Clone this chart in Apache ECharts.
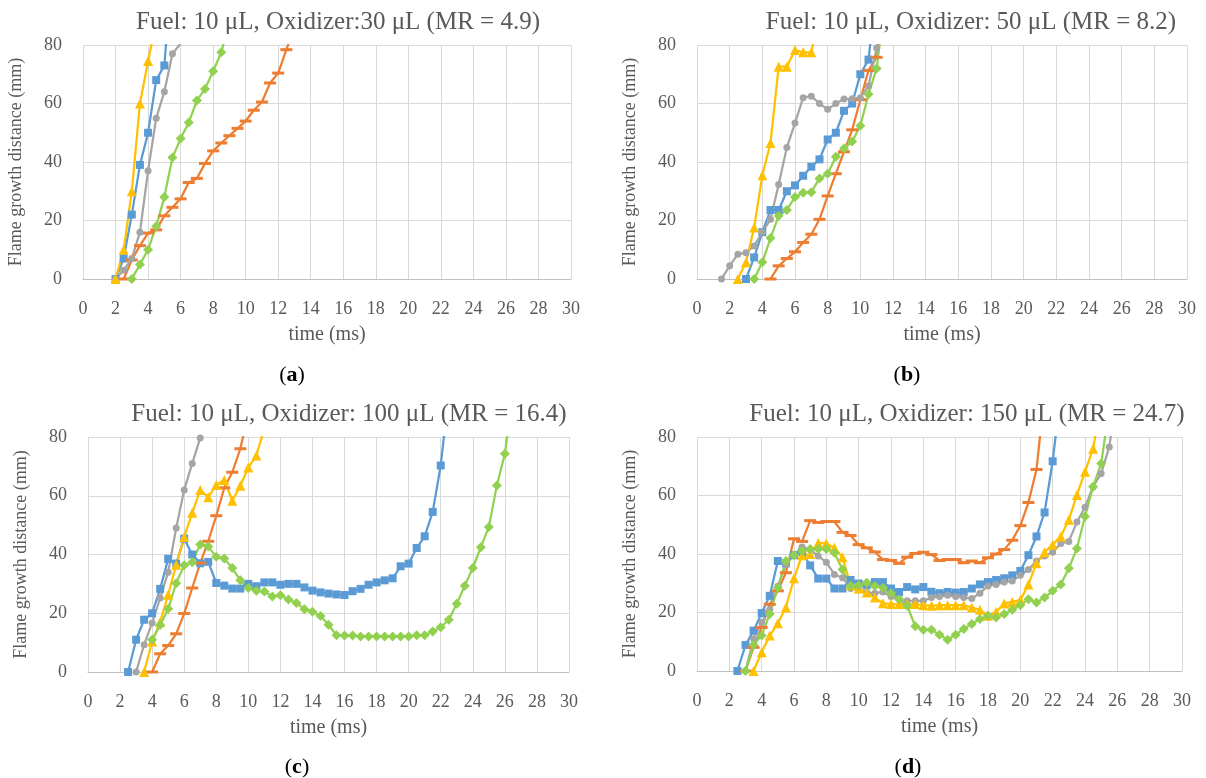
<!DOCTYPE html>
<html>
<head>
<meta charset="utf-8">
<script src="https://cdn.jsdelivr.net/npm/echarts@6/dist/echarts.min.js"></script>
<style>
  html, body { margin: 0; padding: 0; background: #fff; }
  #chart { width: 1206px; height: 778px; }
</style>
</head>
<body>
<div id="chart"></div>
<script>
// Flame growth distance (mm) vs. time (ms), sampled every 0.5 ms.
// Each run is stored as its first sample time and the successive distances.
const STEP = 0.5;
const X_TICKS = [0, 2, 4, 6, 8, 10, 12, 14, 16, 18, 20, 22, 24, 26, 28, 30];
const Y_TICKS = [0, 20, 40, 60, 80];

const PANEL_TITLES = [
  'Fuel: 10 μL, Oxidizer:30 μL (MR = 4.9)',
  'Fuel: 10 μL, Oxidizer: 50 μL (MR = 8.2)',
  'Fuel: 10 μL, Oxidizer: 100 μL (MR = 16.4)',
  'Fuel: 10 μL, Oxidizer: 150 μL (MR = 24.7)'
];
const PANEL_TAGS = ['a', 'b', 'c', 'd'];

// (a) MR = 4.9
const blueA_start = 2;    const blueA   = [0, 7, 22, 39, 50, 68, 73, 108];
const orangeA_start = 2.5; const orangeA = [0, 6.5, 11.4, 15.7, 16.8, 21.6, 24.5, 27.4, 33, 34.4, 39.5, 43.8, 46.5, 49, 51.5, 54, 57.7, 60.5, 67, 70.4, 78.4, 86];
const grayA_start = 2;    const grayA   = [0, 3, 7, 16, 37, 55, 64, 77, 80.5, 90];
const yellowA_start = 2;  const yellowA = [0, 10, 30, 60, 74.5, 88];
const greenA_start = 3;   const greenA  = [0, 5, 10, 18, 28, 41.5, 48, 53.5, 61, 65, 71, 77.5, 88];

// (b) MR = 8.2
const blueB_start = 3;    const blueB   = [0, 7.4, 16, 23.6, 23.6, 30, 32, 35.3, 38.4, 40.9, 47.7, 50, 57.5, 60, 70, 75, 100];
const orangeB_start = 4.5; const orangeB = [0, 4.5, 7, 9.3, 12.5, 15.3, 20.4, 28.4, 36, 43.5, 51, 61.3, 71.3, 75.8, 95];
const grayB_start = 1.5;  const grayB   = [0, 4.5, 8.5, 9, 11.3, 16, 20.4, 32.3, 45, 53.3, 62, 62.5, 60, 58, 60, 61.5, 61.6, 62, 66, 79, 100];
const yellowB_start = 2.5; const yellowB = [0, 5.7, 17.6, 35.5, 46.5, 72.6, 72.6, 78.3, 77.5, 77.5, 92];
const greenB_start = 3.5; const greenB  = [0, 5.7, 14, 21.6, 23.6, 28, 29.5, 29.7, 34.4, 36, 41.8, 44.6, 47, 52.4, 63.2, 72, 95];

// (c) MR = 16.4
const blueC_start = 2.5;  const blueC   = [0, 11, 17.8, 20, 28.3, 38.5, 36.9, 45.4, 40, 37, 37.5, 30.3, 29.4, 28.4, 28.4, 30, 29.2, 30.5, 30.5, 29.7, 30, 30, 28.8, 27.7, 27.1, 26.7, 26.4, 26.2, 27.5, 28.3, 29.7, 30.5, 31.2, 31.9, 36, 36.9, 42.2, 46.2, 54.5, 70.3, 95];
const orangeC_start = 4;  const orangeC = [0, 6.2, 9, 13, 19.9, 28.6, 37.1, 44.5, 53.2, 62.7, 68, 76, 88];
const grayC_start = 3;    const grayC   = [0, 9.3, 16.7, 25.2, 34, 49, 62, 71, 79.7, 90];
const yellowC_start = 3.5; const yellowC = [0, 10.4, 17, 26.3, 36.5, 46, 54.2, 62, 59.5, 63.7, 65.4, 58.3, 63.4, 69.6, 73.7, 83];
const greenC_start = 4;   const greenC  = [11, 16, 21.5, 30.2, 36.3, 37.4, 43.4, 42.7, 39.2, 38.6, 35.4, 31.2, 28.6, 27.7, 27.4, 25.7, 26.1, 24.7, 23.5, 21.4, 20.5, 19.1, 16.1, 12.5, 12.4, 12.4, 12.1, 12.1, 12.1, 12.1, 12.1, 12.1, 12.1, 12.5, 12.5, 13.8, 15.2, 17.8, 23.2, 29.4, 35.4, 42.5, 49.4, 63.5, 74.3, 95];

// (d) MR = 24.7
const blueD_start = 2.5;  const blueD   = [0, 8.9, 13.8, 19.8, 25.7, 37.6, 36.8, 39.6, 40.6, 36.1, 31.6, 31.6, 28.2, 28.2, 31.1, 29.9, 29.3, 30.4, 30.4, 28.2, 27, 28.7, 27.9, 28.7, 27.1, 26.6, 27, 26.8, 27, 28.2, 29.6, 30.4, 31.1, 31.7, 32.7, 34.2, 39.6, 46, 54.2, 71.7, 95];
const orangeD_start = 3;  const orangeD = [0, 8.1, 14.9, 22.8, 27.4, 33.6, 45.2, 44.3, 51.4, 50.8, 51.1, 51.1, 47.4, 46.3, 43.2, 42.1, 40.7, 38.1, 37.8, 36.8, 38.9, 40.2, 40.6, 39.8, 37.8, 38.1, 38.1, 37, 37.6, 37, 38.7, 40, 41.5, 44.7, 49.7, 57.6, 68.9, 95];
const grayD_start = 3;    const grayD   = [0, 11, 16.6, 21, 29, 36.4, 39.8, 42.4, 41.5, 39.3, 37.2, 33, 31.9, 28.2, 27.7, 26.8, 26.6, 27, 25.5, 24.5, 24, 24, 24, 25.1, 25.5, 25.9, 25.5, 25.1, 24.8, 26.6, 29.1, 29.6, 30.4, 30.8, 32.7, 34.7, 37.6, 39.3, 40.6, 43.6, 44.3, 50.9, 56, 63, 67.5, 76.6, 95];
const yellowD_start = 3.5; const yellowD = [0, 6.4, 12.1, 16.3, 21.7, 31.7, 39.6, 40, 43.8, 43.6, 42.1, 38.9, 29.3, 28.2, 26.8, 25.1, 23.2, 22.9, 22.9, 22.9, 22.9, 22.5, 22.3, 22.5, 22.5, 22.5, 22.5, 21.7, 20.9, 18.9, 20.2, 23.1, 23.6, 24.3, 29.6, 36.8, 40.6, 43.2, 46, 51.7, 60.2, 68.1, 76, 92];
const greenD_start = 3;   const greenD  = [0, 9, 12.1, 19.5, 28.5, 37.6, 39.6, 41, 41.7, 41.7, 41.7, 40.4, 34.7, 29.1, 29.3, 30.2, 29.1, 28.5, 26.6, 24.5, 22.3, 15.3, 14.1, 14.1, 12.4, 10.7, 12.4, 14.4, 16.1, 17.8, 18.9, 18.3, 19.5, 20.9, 22.5, 24.5, 23.4, 25.1, 27.4, 29.6, 35.1, 41.9, 52.8, 63, 70.9, 90];

const PANELS = [
  { blue: [blueA_start, blueA], orange: [orangeA_start, orangeA], gray: [grayA_start, grayA], yellow: [yellowA_start, yellowA], green: [greenA_start, greenA] },
  { blue: [blueB_start, blueB], orange: [orangeB_start, orangeB], gray: [grayB_start, grayB], yellow: [yellowB_start, yellowB], green: [greenB_start, greenB] },
  { blue: [blueC_start, blueC], orange: [orangeC_start, orangeC], gray: [grayC_start, grayC], yellow: [yellowC_start, yellowC], green: [greenC_start, greenC] },
  { blue: [blueD_start, blueD], orange: [orangeD_start, orangeD], gray: [grayD_start, grayD], yellow: [yellowD_start, yellowD], green: [greenD_start, greenD] }
];

// Layout of the four plot areas (px)
const GRIDS = [
  { left: 83,  top: 45,  width: 488, height: 234 },
  { left: 697, top: 45,  width: 490, height: 234 },
  { left: 88,  top: 437, width: 481, height: 235 },
  { left: 697, top: 437, width: 485, height: 234 }
];
const TITLE_POS = [[338, 10], [971, 10], [349, 402], [967, 402]];
const TAG_POS = [[292, 364], [907, 364], [297, 756], [908, 756]];

const FONT = '"Liberation Serif", "DejaVu Serif", serif';
const TEXT = '#595959';

const STYLE = {
  blue:   { color: '#5B9BD5', symbol: 'rect',     size: 8 },
  orange: { color: '#ED7D31', symbol: 'rect',     size: [12, 3] },
  gray:   { color: '#A5A5A5', symbol: 'circle',   size: 7 },
  yellow: { color: '#FFC000', symbol: 'triangle', size: 10 },
  green:  { color: '#92D050', symbol: 'diamond',  size: 10 }
};
const ORDER = ['blue', 'orange', 'gray', 'yellow', 'green'];

function toPoints(start, values) {
  return values.map((v, i) => [start + i * STEP, v]);
}

const grid = [], xAxis = [], yAxis = [], series = [], graphic = [];

GRIDS.forEach((g, p) => {
  grid.push(Object.assign({ containLabel: false }, g));
  xAxis.push({
    type: 'value', gridIndex: p, min: 0, max: 30, interval: 2,
    name: 'time (ms)', nameLocation: 'middle', nameGap: 46,
    nameTextStyle: { color: TEXT, fontFamily: FONT, fontSize: 20 },
    axisLine: { show: true, onZero: false, lineStyle: { color: '#BFBFBF', width: 1 } },
    axisTick: { show: false },
    axisLabel: { color: TEXT, fontFamily: FONT, fontSize: 18, margin: 21,
      formatter: v => X_TICKS.includes(v) ? String(v) : '' },
    splitLine: { show: true, lineStyle: { color: '#D9D9D9', width: 1 } }
  });
  yAxis.push({
    type: 'value', gridIndex: p, min: 0, max: 80, interval: 20,
    name: 'Flame growth distance (mm)', nameLocation: 'middle', nameGap: 58,
    nameTextStyle: { color: TEXT, fontFamily: FONT, fontSize: 18 },
    axisLine: { show: false },
    axisTick: { show: false },
    axisLabel: { color: TEXT, fontFamily: FONT, fontSize: 18, margin: 21,
      formatter: v => Y_TICKS.includes(v) ? String(v) : '' },
    splitLine: { show: true, lineStyle: { color: '#D9D9D9', width: 1 } }
  });

  ORDER.forEach(key => {
    const s = STYLE[key];
    const [start, vals] = PANELS[p][key];
    series.push({
      type: 'line', xAxisIndex: p, yAxisIndex: p,
      data: toPoints(start, vals),
      clip: true,
      symbol: s.symbol, symbolSize: s.size, showSymbol: true,
      lineStyle: { color: s.color, width: 2.25 },
      itemStyle: { color: s.color, borderWidth: 0 },
      silent: true, animation: false
    });
  });

  graphic.push({
    type: 'text', x: TITLE_POS[p][0], y: TITLE_POS[p][1],
    style: { text: PANEL_TITLES[p], fill: TEXT, font: '25px ' + FONT, textAlign: 'center', textVerticalAlign: 'top' }
  });
  graphic.push({
    type: 'text', x: TAG_POS[p][0], y: TAG_POS[p][1],
    style: {
      text: '{n|(}{b|' + PANEL_TAGS[p] + '}{n|)}',
      align: 'center', verticalAlign: 'top',
      rich: {
        n: { fontFamily: FONT, fontSize: 22, fill: '#000' },
        b: { fontFamily: FONT, fontSize: 22, fontWeight: 'bold', fill: '#000' }
      }
    }
  });
});

const chart = echarts.init(document.getElementById('chart'), null, { renderer: 'canvas' });
chart.setOption({
  backgroundColor: '#ffffff',
  animation: false,
  grid, xAxis, yAxis, series, graphic
});
</script>
</body>
</html>
